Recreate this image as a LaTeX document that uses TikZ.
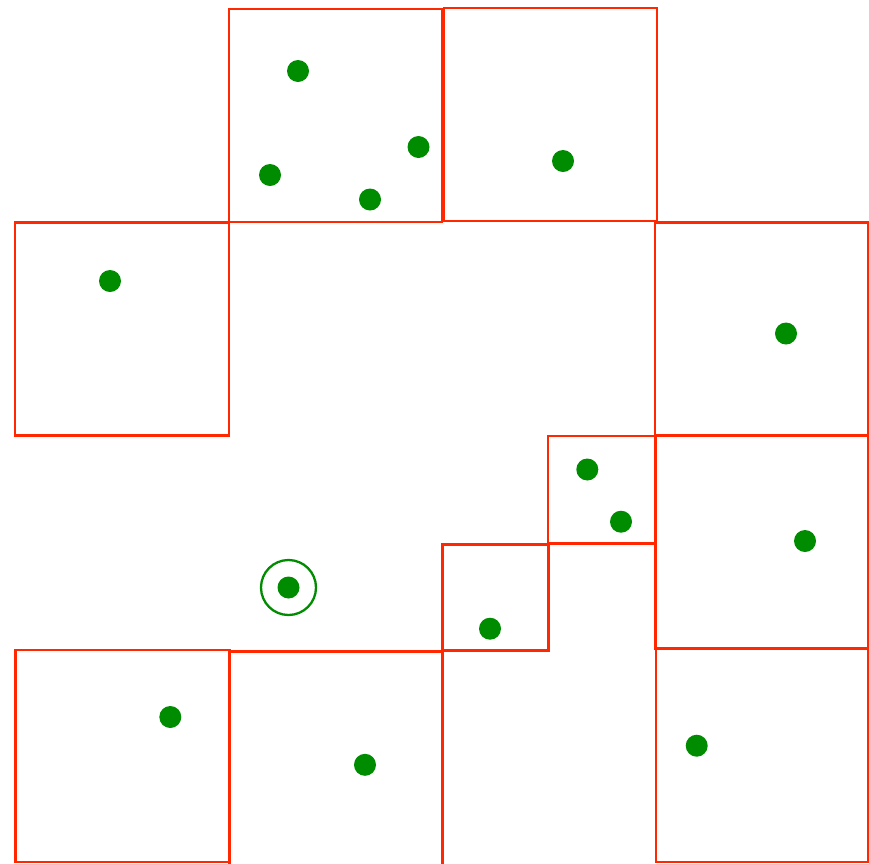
\documentclass[tikz,border=0pt]{standalone}
\begin{document}
\begin{tikzpicture}[x=1pt,y=-1pt,
  sq/.style={draw=redline,line width=2.8pt},
  dot/.style={fill=greendot},
  ring/.style={draw=greendot,line width=2.3pt}]
\definecolor{redline}{RGB}{255,40,0}
\definecolor{greendot}{RGB}{0,140,0}
\useasboundingbox (0,0) rectangle (869,863);
% squares
\draw[sq] (229,9) rectangle (442,222);
\draw[sq] (444,8) rectangle (657,221);
\draw[sq] (15,222.5) rectangle (229,435.5);
\draw[sq] (655,222.5) rectangle (868,435.5);
\draw[sq] (548,436) rectangle (655,543.3);
\draw[sq] (655.5,436) rectangle (868,648.5);
\draw[sq] (442.3,544.7) rectangle (548.7,650.7);
\draw[sq] (15.3,650) rectangle (229.3,862);
\draw[sq] (229.3,651.3) rectangle (442.7,866);
\draw[sq] (656,649) rectangle (868.3,862);
% dots
\foreach \p in {(298,71),(418.5,147),(270,175),(370,199.5),(563,161),(110,281),
  (786,333.5),(587.3,469.5),(621,521.7),(805,541),(288.5,587.5),(490,628.7),
  (170.3,717),(365,764.8),(696.7,745.7)}
  \fill[dot] \p circle (11);
\draw[ring] (288.5,587.5) circle (27.5);
\end{tikzpicture}
\end{document}
